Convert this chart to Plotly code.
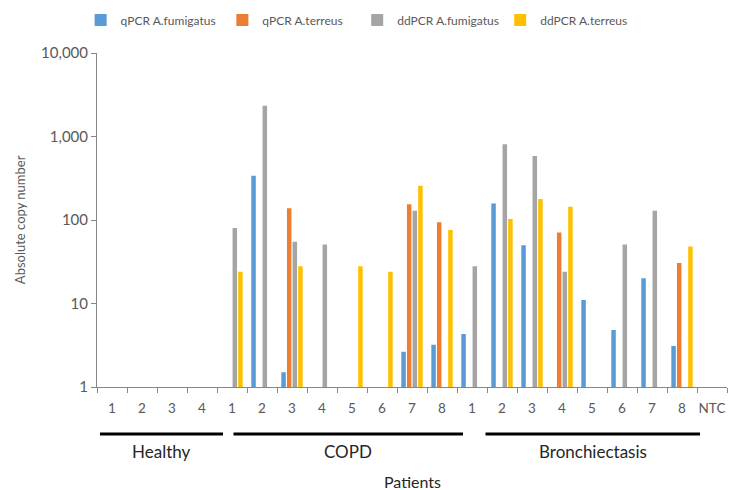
import plotly.graph_objects as go

# ---- data ----
categories = ["H1", "H2", "H3", "H4",
              "C1", "C2", "C3", "C4", "C5", "C6", "C7", "C8",
              "B1", "B2", "B3", "B4", "B5", "B6", "B7", "B8", "NTC"]
tick_labels = ["1", "2", "3", "4",
               "1", "2", "3", "4", "5", "6", "7", "8",
               "1", "2", "3", "4", "5", "6", "7", "8", "NTC"]
qpcr_fumigatus = [None, None, None, None,
                  None, 338, 1.5, None, None, None, 2.65, 3.2,
                  4.3, 158, 50, None, 11, 4.8, 20, 3.1, None]
qpcr_terreus = [None, None, None, None,
                None, None, 138, None, None, None, 154, 94,
                None, None, None, 71, None, None, None, 30.5, None]
ddpcr_fumigatus = [None, None, None, None,
                   80, 2340, 55, 51, None, None, 129, None,
                   28, 806, 584, 24, None, 51, 129, None, None]
ddpcr_terreus = [None, None, None, None,
                 24, None, 28, None, 28, 24, 258, 76,
                 None, 103, 178, 144, None, None, None, 48, None]
series_names = ["qPCR A.fumigatus", "qPCR A.terreus", "ddPCR A.fumigatus", "ddPCR A.terreus"]
series_colors = ["#5B9BD5", "#ED7D31", "#A5A5A5", "#FFC000"]
groups = ["Healthy", "COPD", "Bronchiectasis"]
group_spans = [(-0.4, 3.7), (4.05, 11.7), (12.45, 19.6)]
y_ticks = [1, 10, 100, 1000, 10000]
y_ticktext = ["1", "10", "100", "1,000", "10,000"]

FONT = "Lato, Carlito, 'Liberation Sans', sans-serif"
GRAY_TXT = "#595959"
DARK_TXT = "#262626"
AX = "#868686"

legend_ids = ["legend", "legend2", "legend3", "legend4"]
legend_x = [-0.026, 0.199, 0.413, 0.640]

fig = go.Figure()
for name, vals, col, lid in zip(series_names,
                                [qpcr_fumigatus, qpcr_terreus, ddpcr_fumigatus, ddpcr_terreus],
                                series_colors, legend_ids):
    fig.add_trace(go.Bar(x=categories, y=vals, name=name, marker_color=col,
                         marker_line_width=0, legend=lid))

# group underline bars and labels
for g, (x0, x1) in zip(groups, group_spans):
    fig.add_shape(type="line", xref="x", yref="paper", x0=x0, x1=x1,
                  y0=-0.141, y1=-0.141, line=dict(color="black", width=3))
    fig.add_annotation(x=(x0 + x1) / 2, xref="x", y=-0.193, yref="paper",
                       text=g, showarrow=False, yanchor="middle",
                       font=dict(family=FONT, size=17, color=DARK_TXT))

fig.add_annotation(x=0.5, xref="paper", y=-0.284, yref="paper", text="Patients",
                   showarrow=False, yanchor="middle",
                   font=dict(family=FONT, size=16, color=DARK_TXT))
fig.add_annotation(x=-0.122, xref="paper", y=0.5, yref="paper",
                   text="Absolute copy number", textangle=-90,
                   showarrow=False, xanchor="center", yanchor="middle",
                   font=dict(family=FONT, size=13, color=GRAY_TXT))

legend_common = dict(orientation="h", y=1.099, yanchor="middle", xanchor="left",
                     font=dict(family=FONT, size=12, color=GRAY_TXT),
                     itemwidth=30, bgcolor="rgba(0,0,0,0)")
layout_legends = {lid: dict(legend_common, x=lx) for lid, lx in zip(legend_ids, legend_x)}

fig.update_layout(
    width=729, height=490,
    margin=dict(l=97, r=2, t=53, b=103, autoexpand=False),
    paper_bgcolor="white", plot_bgcolor="white",
    barmode="group", bargap=0.25, bargroupgap=0.2,
    font=dict(family=FONT, size=13, color=GRAY_TXT),
    showlegend=True,
    xaxis=dict(type="category", tickmode="array", tickvals=categories, ticktext=tick_labels,
               tickson="boundaries", ticks="outside", ticklen=5, tickcolor=AX,
               tickangle=0, ticklabelstandoff=9,
               showline=True, linecolor=AX, linewidth=1, showgrid=False,
               tickfont=dict(family=FONT, size=13.5, color=GRAY_TXT),
               range=[-0.5, 20.5]),
    yaxis=dict(type="log", range=[0, 4], tickvals=y_ticks, ticktext=y_ticktext,
               ticks="outside", ticklen=5, tickcolor=AX,
               showline=True, linecolor=AX, linewidth=1, showgrid=False,
               zeroline=False,
               tickfont=dict(family=FONT, size=15, color=GRAY_TXT)),
    **layout_legends,
)
fig.write_html("out.html", config={"displayModeBar": False},
               post_script="document.body.style.margin='0';")
